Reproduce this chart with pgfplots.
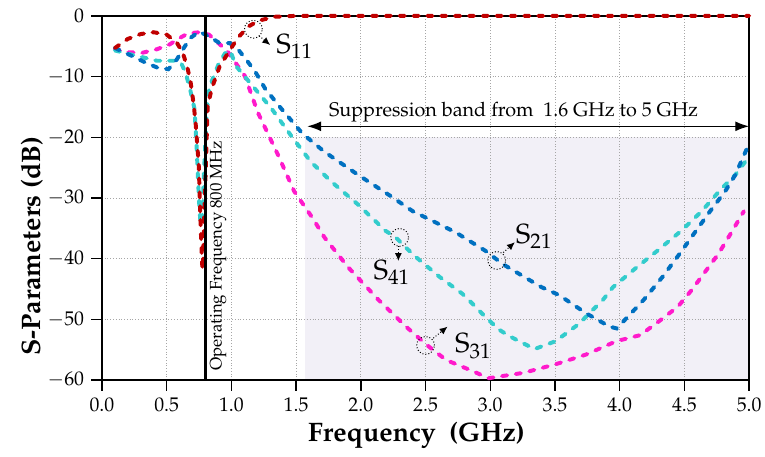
\documentclass[border=0pt]{standalone}
\usepackage[T1]{fontenc}
\usepackage{mathpazo}
\usepackage{pgfplots}
\pgfplotsset{compat=1.18}
\usetikzlibrary{arrows.meta}

\definecolor{sone}{HTML}{C00000}
\definecolor{stwo}{HTML}{0070C0}
\definecolor{sthree}{HTML}{FF1ACB}
\definecolor{sfour}{HTML}{33CCCC}
\definecolor{band}{HTML}{F2F0F7}

\begin{document}
\begin{tikzpicture}
\begin{axis}[
  set layers,
  width=327pt, height=184pt, scale only axis,
  xmin=0, xmax=5, ymin=-60, ymax=0,
  xtick={0,0.5,1,1.5,2,2.5,3,3.5,4,4.5,5},
  ytick={-60,-50,-40,-30,-20,-10,0},
  xticklabel style={/pgf/number format/.cd, fixed, fixed zerofill, precision=1},
  xtick pos=lower, ytick pos=left,
  tick align=outside, major tick length=5.5pt,
  tick style={black, line width=0.7pt},
  axis line style={black, line width=0.7pt},
  grid=major, grid style={densely dotted, gray!70, line width=0.4pt},
  tick label style={font=\fontsize{10}{12}\selectfont},
  xlabel={Frequency\ \ (GHz)}, ylabel={S-Parameters (dB)},
  label style={font=\fontsize{13.5}{16}\selectfont\bfseries},
  xlabel style={at={(axis description cs:0.486,-0.152)}, anchor=center},
  ylabel style={at={(axis description cs:-0.108,0.367)}, anchor=center},
  clip=false,
  every axis plot/.append style={line width=2pt, dash pattern=on 2.6pt off 4.4pt, line cap=round},
]
% suppression band shading
\addplot[draw=none, fill=band, solid, on layer=axis background]
  coordinates {(1.57,-60) (1.57,-20) (5,-20) (5,-60) (1.57,-60)};

% S31
\addplot[sthree] coordinates {
(0.1,-5.5)(0.208,-6.0)(0.31,-6.1)(0.425,-5.5)(0.524,-4.7)(0.589,-3.8)(0.664,-2.9)
(0.751,-2.7)(0.827,-3.1)(0.968,-5.8)(1.104,-9.9)(1.204,-15.9)(1.36,-22.9)
(1.485,-28.9)(1.627,-33.3)(1.719,-36.5)(1.901,-41.4)(2.137,-46.8)(2.349,-51.2)
(2.508,-54.2)(2.659,-56.7)(2.861,-58.5)(2.987,-59.7)(3.26,-58.8)(3.505,-57.4)
(3.74,-55.8)(3.974,-53.6)(4.159,-52.6)(4.317,-50.1)(4.45,-47.9)(4.555,-45.2)
(4.659,-42.2)(4.763,-39.2)(4.854,-36.0)(4.959,-32.2)};

% S41
\addplot[sfour] coordinates {
(0.1,-5.7)(0.233,-6.4)(0.425,-7.4)(0.556,-7.4)(0.61,-7.7)(0.645,-9.3)(0.68,-12)
(0.715,-15.3)(0.732,-21.8)(0.743,-27.3)(0.753,-31.6)(0.762,-34.3)(0.775,-33)
(0.79,-25)(0.81,-16)(0.829,-11.8)(0.9,-8.0)(0.95,-6.2)(0.99,-5.7)(1.037,-8.3)
(1.162,-11.5)(1.311,-15.3)(1.46,-19.7)(1.612,-24)(1.771,-27.3)(1.979,-31.1)
(2.19,-35.4)(2.27,-36.5)(2.349,-38.2)(2.429,-39.8)(2.608,-43)(2.785,-45.8)
(2.861,-47.4)(2.962,-49.6)(3.068,-51.7)(3.15,-52.8)(3.342,-54.9)(3.505,-53.6)
(3.688,-50.7)(3.766,-49)(3.87,-46.8)(3.948,-44.7)(4.133,-41.4)(4.291,-38.7)
(4.476,-35.4)(4.633,-32.2)(4.789,-28.4)(4.893,-26.2)(4.971,-24)(5.0,-23.2)};

% S21
\addplot[stwo] coordinates {
(0.1,-5.3)(0.231,-6.6)(0.336,-7.7)(0.425,-8.5)(0.513,-8.8)(0.578,-7.2)(0.632,-5.3)
(0.686,-3.6)(0.751,-2.6)(0.827,-3.4)(0.903,-4.4)(0.989,-4.5)(1.062,-5.8)
(1.125,-7.5)(1.187,-9.3)(1.261,-12)(1.386,-15.3)(1.549,-19.4)(1.719,-22.4)
(1.979,-26.2)(2.217,-29.5)(2.402,-32.2)(2.508,-33.3)(2.735,-35.7)(2.962,-38.7)
(3.096,-40.9)(3.396,-44.7)(3.531,-46)(3.74,-49)(3.922,-51.2)(3.977,-51.5)
(4.026,-50.4)(4.185,-46.8)(4.331,-43)(4.463,-39.2)(4.58,-35.7)(4.698,-32.2)
(4.815,-28.9)(4.893,-26.2)(4.984,-21.8)(5.0,-21.4)};

% S11
\addplot[sone] coordinates {
(0.1,-5.3)(0.2,-3.8)(0.3,-3.0)(0.4,-2.7)(0.5,-3.1)(0.578,-4.4)(0.625,-6.1)
(0.66,-8.5)(0.685,-10.9)(0.71,-14.8)(0.725,-18)(0.748,-24.6)(0.762,-34.3)
(0.774,-40.9)(0.779,-41.8)(0.786,-36.7)(0.792,-31.6)(0.8,-26.7)(0.807,-21.8)
(0.817,-14.8)(0.851,-11.8)(0.91,-8.3)(0.975,-6.1)(1.05,-3.6)(1.136,-1.7)
(1.21,-0.8)(1.336,-0.15)(1.5,0)(2,0)(3,0)(4,0)(5,0)};

% operating frequency marker
\addplot[black, solid, line width=1.5pt, line cap=butt] coordinates {(0.8,-60)(0.8,0)};
\node[rotate=90, anchor=north west, inner sep=2pt, font=\fontsize{8.5}{10}\selectfont]
  at (axis cs:0.8,-59.2) {Operating Frequency 800 MHz};

% suppression band arrow
\draw[{Latex[length=7pt,width=5pt]}-{Latex[length=7pt,width=5pt]}, line width=0.7pt]
  (axis cs:1.586,-18.2) -- (axis cs:5,-18.2);
\node[anchor=south, inner sep=2pt, font=\fontsize{10}{12}\selectfont]
  at (axis cs:3.18,-18.2) {Suppression band from\ \ 1.6 GHz to 5 GHz};

% labels
\draw[densely dotted, line width=0.5pt] (axis cs:1.17,-2.2) circle[radius=4.5pt];
\draw[densely dotted, line width=0.5pt, -{Latex[length=4pt,width=3.5pt]}] (axis cs:1.215,-3.3) -- (axis cs:1.30,-4.8);
\node[font=\fontsize{14}{16}\selectfont, inner sep=1pt, anchor=west] at (axis cs:1.33,-5.0) {S$_{11}$};

\draw[densely dotted, line width=0.5pt] (axis cs:3.05,-40.3) circle[radius=4.5pt];
\draw[densely dotted, line width=0.5pt, -{Latex[length=4pt,width=3.5pt]}] (axis cs:3.1,-39.0) -- (axis cs:3.19,-37.3);
\node[font=\fontsize{14}{16}\selectfont, inner sep=1pt, anchor=west] at (axis cs:3.18,-36.4) {S$_{21}$};

\draw[densely dotted, line width=0.5pt] (axis cs:2.30,-36.5) circle[radius=4.5pt];
\draw[densely dotted, line width=0.5pt, -{Latex[length=4pt,width=3.5pt]}] (axis cs:2.29,-37.9) -- (axis cs:2.29,-40.4);
\node[font=\fontsize{14}{16}\selectfont, inner sep=1pt, anchor=north] at (axis cs:2.24,-39.9) {S$_{41}$};

\draw[densely dotted, line width=0.5pt] (axis cs:2.5,-54.3) circle[radius=4.5pt];
\draw[densely dotted, line width=0.5pt, -{Latex[length=4pt,width=3.5pt]}] (axis cs:2.56,-53.1) -- (axis cs:2.67,-51.2);
\node[font=\fontsize{14}{16}\selectfont, inner sep=1pt, anchor=west] at (axis cs:2.71,-54.4) {S$_{31}$};
\end{axis}
\pgfresetboundingbox
\useasboundingbox (-51.5pt,-38.5pt) rectangle (335pt,192pt);
\end{tikzpicture}
\end{document}
